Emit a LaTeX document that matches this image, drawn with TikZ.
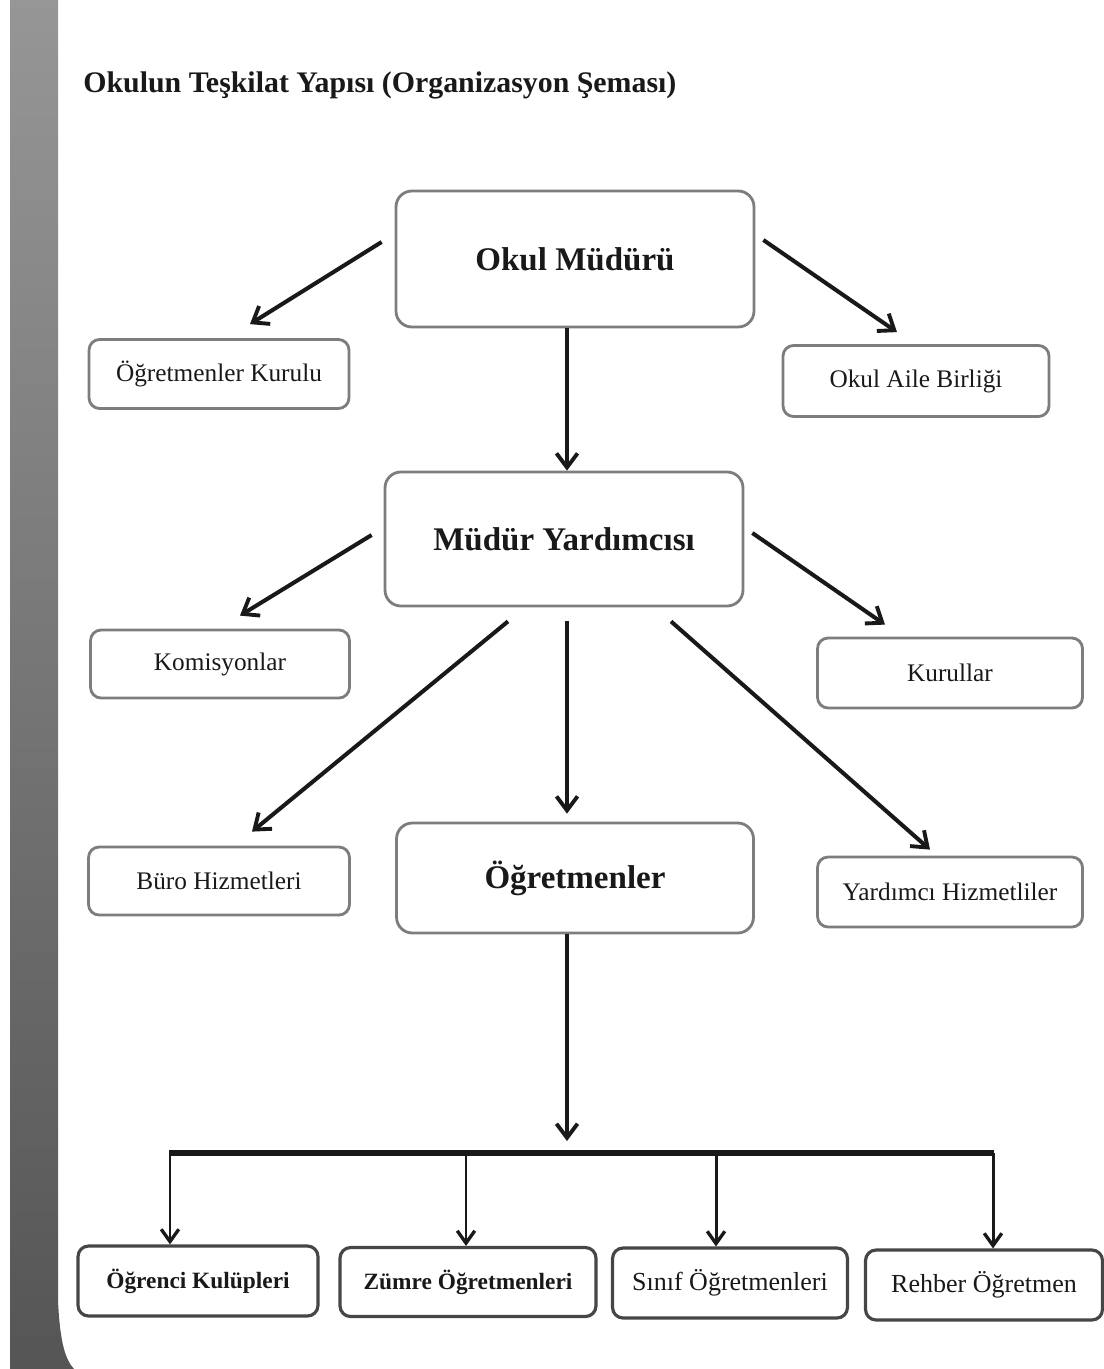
\documentclass[tikz,border=0pt]{standalone}
\usepackage{fontspec}
\setmainfont{Liberation Serif}
\usepackage{tikz}
\usetikzlibrary{positioning,calc,arrows.meta}
\definecolor{boxGrey}{RGB}{125,125,125}
\definecolor{boxDark}{RGB}{70,70,70}
\definecolor{inkBlack}{RGB}{25,25,25}
\definecolor{barTop}{RGB}{150,150,150}
\definecolor{barBottom}{RGB}{85,85,85}

\begin{document}
\begin{tikzpicture}[x=0.02cm,y=-0.02cm,
                unit/.style={draw=boxGrey,line width=1.6pt,rounded corners=6pt,fill=white,
                             text=inkBlack,font=\fontsize{14.4}{16}\selectfont,align=center},
                head/.style={unit,rounded corners=9pt,font=\fontsize{18.8}{21}\selectfont\bfseries},
                leaf/.style={unit,draw=boxDark,line width=1.8pt,font=\fontsize{14.8}{16}\selectfont},
                leafbold/.style={leaf,font=\fontsize{13.3}{15}\selectfont\bfseries},
                arr/.style={-{Straight Barb[length=8pt,width=12pt,line width=2.2pt]},line width=2.3pt,inkBlack},
                drop/.style={-{Straight Barb[length=7pt,width=10pt,line width=1.9pt]},line width=1.7pt,inkBlack}
            ]
                \useasboundingbox (0,0) rectangle (1104,1369);
                % grey page edge
                \shade[top color=barTop,bottom color=barBottom]
                    (10,0) -- (58,0) -- (58,1300) .. controls (60,1345) and (66,1360) .. (74,1369) -- (10,1369) -- cycle;
                \node[anchor=base west,inner sep=0pt,text=inkBlack,font=\fontsize{17}{19}\selectfont\bfseries] (title) at (83,92)
                    {Okulun Teşkilat Yapısı (Organizasyon Şeması)};

                % upper levels
                \node[head,minimum width=7.16cm,minimum height=2.72cm] (mudur) at (575,259) {Okul Müdürü};
                \node[unit,minimum width=5.2cm,minimum height=1.38cm] (kurul) at (219,374) {Öğretmenler Kurulu};
                \node[unit,minimum width=5.32cm,minimum height=1.42cm] (aile) at (916,381) {Okul Aile Birliği};
                \node[head,minimum width=7.16cm,minimum height=2.68cm] (yardimci) at (564,539) {Müdür Yardımcısı};
                \node[unit,minimum width=5.18cm,minimum height=1.36cm] (komisyon) at (220,664) {Komisyonlar};
                \node[unit,minimum width=5.3cm,minimum height=1.4cm] (kurullar) at (950,673) {Kurullar};
                \node[unit,minimum width=5.22cm,minimum height=1.36cm] (buro) at (219,881) {Büro Hizmetleri};
                \node[head,minimum width=7.14cm,minimum height=2.2cm] (ogretmen) at (575,878) {Öğretmenler};
                \node[unit,minimum width=5.3cm,minimum height=1.4cm] (hizmetli) at (950,892) {Yardımcı Hizmetliler};

                % lower level
                \node[leafbold,minimum width=4.8cm,minimum height=1.4cm] (ogrenci) at (198,1281) {Öğrenci Kulüpleri};
                \node[leafbold,minimum width=5.12cm,minimum height=1.38cm] (zumre) at (468,1282) {Zümre Öğretmenleri};
                \node[leaf,minimum width=4.7cm,minimum height=1.4cm] (sinif) at (730,1283) {Sınıf Öğretmenleri};
                \node[leaf,minimum width=4.74cm,minimum height=1.4cm] (rehber) at (984,1285) {Rehber Öğretmen};

                % connectors
                \draw[arr] ($(mudur.west)+(-13,-17)$) -- ($(kurul.north)+(31,-14)$);
                \draw[arr] ($(mudur.east)+(8,-19)$) -- ($(aile.north)+(-19,-12)$);
                \draw[arr] ($(mudur.south)+(-8,0)$) -- ($(yardimci.north)+(3,0)$);
                \draw[arr] ($(yardimci.west)+(-12,-4)$) -- ($(komisyon.north)+(20,-13)$);
                \draw[arr] ($(yardimci.east)+(8,-6)$) -- ($(kurullar.north)+(-65,-12)$);
                \draw[arr] ($(yardimci.south)+(-56,14)$) -- ($(buro.north)+(33,-14)$);
                \draw[arr] ($(yardimci.south)+(3,14)$) -- ($(ogretmen.north)+(-8,-8)$);
                \draw[arr] ($(yardimci.south)+(107,14)$) -- ($(hizmetli.north)+(-20,-6)$);

                \coordinate (bar) at (567,1153);
                \draw[arr] ($(ogretmen.south)+(-8,0)$) -- ($(bar)+(0,-12)$);
                \foreach \n/\dx in {ogrenci/-28,zumre/-2,sinif/-14,rehber/9}{
                    \coordinate (to\n) at ($(\n.north)+(\dx,0)$);
                    \draw[drop] (to\n |- bar) -- (to\n);
                }
                \draw[line width=3.4pt,inkBlack] ($(toogrenci |- bar)+(-1,0)$) -- ($(torehber |- bar)+(1,0)$);
            \end{tikzpicture}
\end{document}
